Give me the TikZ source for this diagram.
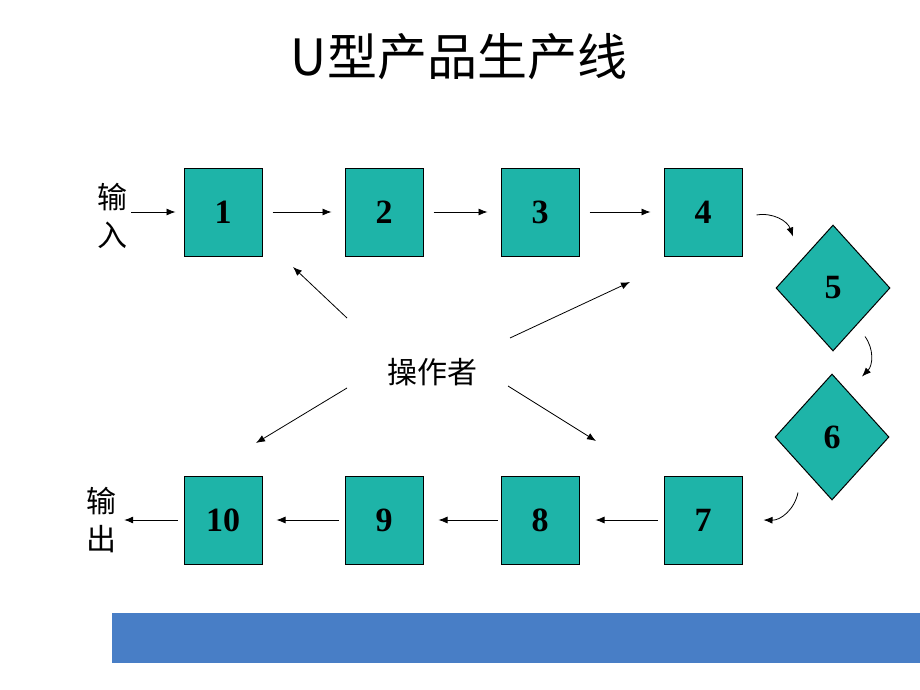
\documentclass[tikz,border=0pt]{standalone}
\usepackage{fontspec}
\setmainfont{Liberation Serif}
\newfontfamily\cjk{Noto Sans CJK SC}
\usepackage{tikz}
\usetikzlibrary{arrows.meta,positioning,calc,shapes.geometric}
\definecolor{stationteal}{RGB}{30,180,168}
\definecolor{barblue}{RGB}{72,126,198}
\tikzstyle{station}=[draw,line width=1pt,fill=stationteal,minimum width=78pt,minimum height=88pt,inner sep=0pt,font=\fontsize{34}{34}\selectfont\bfseries]
\tikzstyle{checkpt}=[draw,diamond,line width=1pt,fill=stationteal,minimum width=114pt,minimum height=126pt,inner sep=0pt,font=\fontsize{34}{34}\selectfont\bfseries]
\tikzstyle{cjktext}=[align=center,inner sep=0pt,font=\cjk\fontsize{30}{38}\selectfont]
\tikzstyle{flow}=[-{Latex[length=9pt,width=7pt]},line width=0.8pt]

\begin{document}
\begin{tikzpicture}[x=1pt,y=1pt]
\useasboundingbox (0,0) rectangle (920,-690);

% title and bar
\node (title) at (459,-57) {\cjk\fontsize{50}{50}\selectfont U型产品生产线};
\fill[barblue] (112,-613) rectangle (920,-663);

% stations
\node [station] (b1) at (223,-212) {1};
\node [station] (b2) at (384,-212) {2};
\node [station] (b3) at (540,-212) {3};
\node [station] (b4) at (703,-212) {4};
\node [checkpt] (d5) at (833,-288) {5};
\node [checkpt] (d6) at (832,-437) {6};
\node [station] (b7) at (703,-520) {7};
\node [station] (b8) at (540,-520) {8};
\node [station] (b9) at (384,-520) {9};
\node [station] (b10) at (223,-520) {10};

\node [cjktext] (in) at (112,-216) {输\\入};
\node [cjktext] (out) at (101,-520) {输\\出};
\node [cjktext] (op) at (432,-372) {操作者};

% line flow
\draw [flow, shorten <=4pt, shorten >=8pt] (in.east |- b1.west) -- (b1.west);
\draw [flow, shorten <=10pt, shorten >=13pt] (b1) -- (b2);
\draw [flow, shorten <=10pt, shorten >=13pt] (b2) -- (b3);
\draw [flow, shorten <=10pt, shorten >=13pt] (b3) -- (b4);
\draw [flow] ([xshift=14pt,yshift=-3pt]b4.east) to[bend left=40] ([xshift=-40pt,yshift=-12pt]d5.north);
\draw [flow] ([xshift=32pt,yshift=15pt]d5.south) to[bend left=40] ([xshift=30pt,yshift=-3pt]d6.north);
\draw [flow] ([xshift=-34pt,yshift=8pt]d6.south) to[bend left=40] ([xshift=21pt]b7.east);
\draw [flow, shorten <=6pt, shorten >=16pt] (b7) -- (b8);
\draw [flow, shorten <=3pt, shorten >=15pt] (b8) -- (b9);
\draw [flow, shorten <=6pt, shorten >=14pt] (b9) -- (b10);
\draw [flow, shorten <=6pt, shorten >=8pt] (b10) -- (out);

% operator
\coordinate (t1) at (293,-267);
\coordinate (t4) at (630,-282);
\coordinate (t10) at (256,-443);
\coordinate (t8) at (596,-441);
\draw [flow] ([shift={(-85,54)}]op.center) -- (t1);
\draw [flow] ([shift={(78,34)}]op.center) -- (t4);
\draw [flow] ([shift={(-85,-16)}]op.center) -- (t10);
\draw [flow] ([shift={(76,-14)}]op.center) -- (t8);
\end{tikzpicture}
\end{document}
